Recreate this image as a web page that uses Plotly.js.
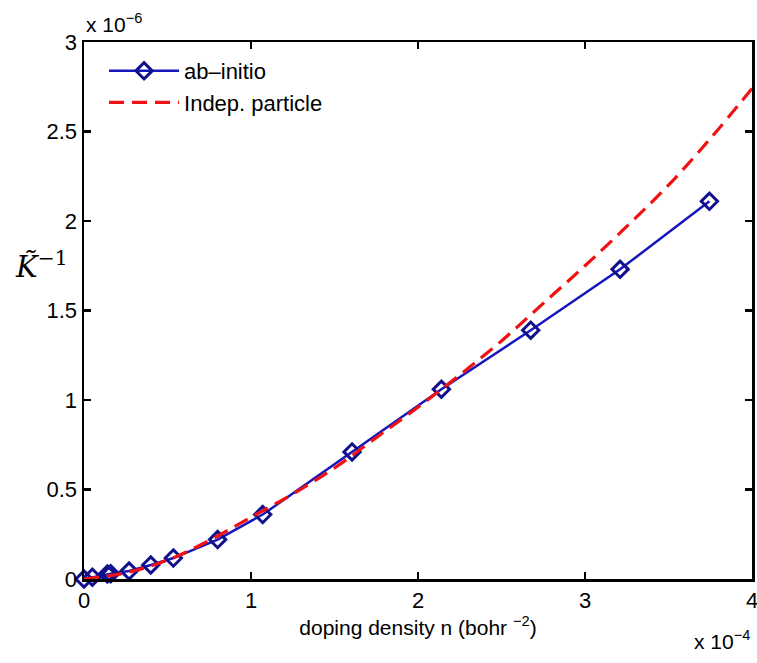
<!DOCTYPE html>
<html>
<head>
<meta charset="utf-8">
<script src="https://cdn.plot.ly/plotly-3.0.1.min.js"></script>
<style>html,body{margin:0;padding:0;background:#fff;}#plot{width:757px;height:663px;}</style>
</head>
<body>
<div id="plot"></div>
<script>
// ab-initio data (x in units of 1e-4 bohr^-2, y in units of 1e-6)
const abX = [0, 0.05, 0.14, 0.16, 0.27, 0.40, 0.535, 0.80, 1.07, 1.605, 2.14, 2.675, 3.21, 3.745];
const abY = [0, 0.01, 0.028, 0.03, 0.045, 0.078, 0.117, 0.22, 0.36, 0.71, 1.06, 1.39, 1.73, 2.11];
// independent particle curve
const ipX = [0, 0.25, 0.5, 0.75, 1.0, 1.25, 1.5, 1.75, 2.0, 2.25, 2.5, 2.75, 3.0, 3.25, 3.5, 3.75, 4.0];
const ipY = [0, 0.035, 0.105, 0.215, 0.345, 0.475, 0.62, 0.79, 0.96, 1.14, 1.33, 1.54, 1.75, 1.97, 2.2, 2.46, 2.74];
const xTicks = [0, 1, 2, 3, 4];
const yTicks = [0, 0.5, 1, 1.5, 2, 2.5, 3];
const yTickText = ['0', '0.5', '1', '1.5', '2', '2.5', '3'];

const font = 'Liberation Sans, Arial, sans-serif';

const traces = [
  {
    x: abX, y: abY, type: 'scatter', mode: 'lines+markers', name: 'ab\u2013initio', cliponaxis: false,
    line: {color: '#1616bc', width: 2.5},
    marker: {symbol: 'diamond-open', size: 12.5, color: '#10108c', line: {width: 3, color: '#10108c'}}
  },
  {
    x: ipX, y: ipY, type: 'scatter', mode: 'lines', name: 'Indep. particle',
    line: {color: '#f01212', width: 3.2, dash: '15px,8px', shape: 'spline'}
  }
];

const axisCommon = {
  showline: true, linecolor: '#000', linewidth: 2.5, mirror: 'ticks',
  ticks: 'inside', ticklen: 7, tickwidth: 2.5, tickcolor: '#000',
  showgrid: false, zeroline: false, ticklabeloverflow: 'allow',
  tickfont: {family: font, size: 22, color: '#000'}
};

const layout = {
  width: 757, height: 663,
  margin: {l: 84, r: 5, t: 42, b: 84},
  paper_bgcolor: '#fff', plot_bgcolor: '#fff',
  showlegend: true,
  legend: {x: 0.03, y: 0.985, xanchor: 'left', yanchor: 'top', bgcolor: 'rgba(255,255,255,0)',
           itemwidth: 70, font: {family: font, size: 22, color: '#000'}, tracegroupgap: 0},
  xaxis: Object.assign({}, axisCommon, {range: [0, 4], tickvals: xTicks, ticktext: xTicks.map(String),
    title: {text: 'doping density n (bohr <sup>\u22122</sup>)', font: {family: font, size: 21, color: '#000'}, standoff: 2}}),
  yaxis: Object.assign({}, axisCommon, {range: [0, 3], tickvals: yTicks, ticktext: yTickText}),
  annotations: [
    {text: 'x 10<sup>\u22126</sup>', xref: 'paper', yref: 'paper', x: 0, y: 1, xanchor: 'left', yanchor: 'bottom',
     yshift: 4, showarrow: false, font: {family: font, size: 21, color: '#000'}},
    {text: 'x 10<sup>\u22124</sup>', xref: 'paper', yref: 'paper', x: 1, y: 0, xanchor: 'right', yanchor: 'top',
     yshift: -46, showarrow: false, font: {family: font, size: 21, color: '#000'}},
    {text: '<i>K\u0303</i><sup>\u22121</sup>', xref: 'paper', yref: 'paper', x: 0, y: 0.585, xanchor: 'right', yanchor: 'middle',
     xshift: -14, showarrow: false, font: {family: 'DejaVu Serif, Liberation Serif, serif', size: 29, color: '#000'}}
  ]
};

Plotly.newPlot('plot', traces, layout, {displayModeBar: false, staticPlot: true});
</script>
</body>
</html>
